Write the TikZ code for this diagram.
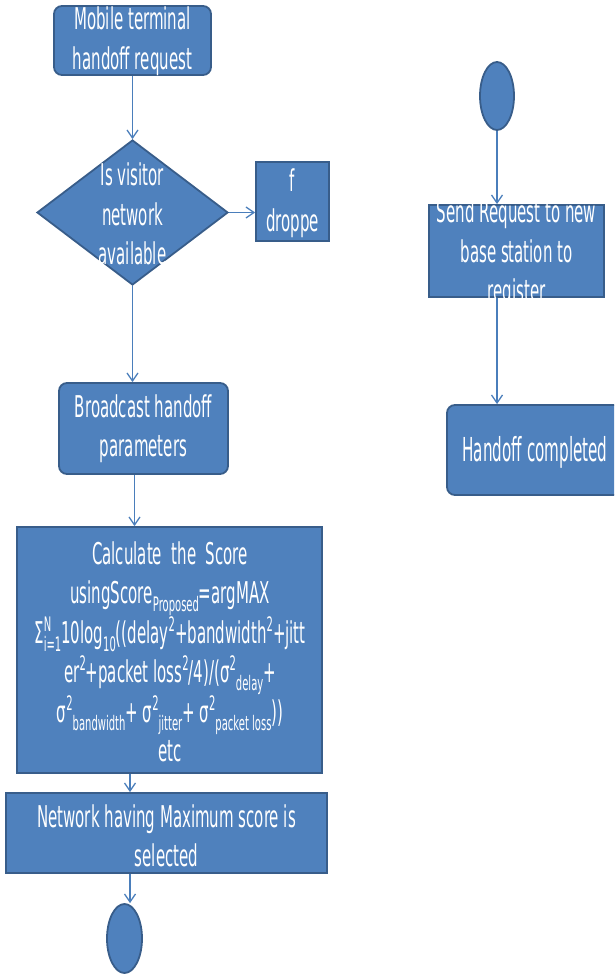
\documentclass[tikz,border=0pt]{standalone}
\usepackage{fontspec}
\setmainfont{DejaVu Sans}[FakeStretch=0.5]
\newfontfamily\bigfont{DejaVu Sans}[FakeStretch=0.46]
\usetikzlibrary{shapes.geometric,arrows.meta}
\definecolor{boxfill}{HTML}{4F81BD}
\definecolor{boxline}{HTML}{385D8A}
\definecolor{arrline}{HTML}{4A7EBB}
\newcommand{\sps}[1]{\raisebox{0.4em}{\fontsize{20}{20}\selectfont #1}}
\newcommand{\sbs}[1]{\raisebox{-0.26em}{\fontsize{20}{20}\selectfont #1}}
\tikzset{
  base/.style={fill=boxfill, draw=boxline, line width=1.8pt, inner sep=0pt},
  rbox/.style={base, rectangle, rounded corners=8pt},
  sbox/.style={base, rectangle},
  dia/.style={base, diamond},
  oval/.style={base, ellipse},
  txt/.style={text=white, align=center, inner sep=0pt, font=\fontsize{30}{39.5}\selectfont},
  arr/.style={draw=arrline, line width=1.3pt, -{Straight Barb[length=8pt,width=11pt,line width=1.3pt]}}
}
\begin{document}
\begin{tikzpicture}[x=1pt,y=-1pt]
\useasboundingbox (0,0) rectangle (614,976);
\begin{scope}
\clip (0,0) rectangle (614,976);
% left column
\node[rbox, minimum width=157, minimum height=69] (mt) at (132.5,40.5) {};
\node[txt] (mtt) at (132.5,41) {Mobile terminal\\handoff request};
\node[dia, minimum width=191, minimum height=145] (dec) at (132.5,212.5) {};
\node[txt] (dect) at (132.5,214) {Is visitor\\network\\available};
\node[sbox, minimum width=73, minimum height=79] (drop) at (292.5,201.5) {};
\node[txt] (dropt) at (292.5,203) {f\\droppe};
\node[rbox, minimum width=169, minimum height=91] (bc) at (143.5,428.5) {};
\node[txt] (bct) at (bc) {Broadcast handoff\\parameters};
\node[sbox, minimum width=305, minimum height=246] (calc) at (169.5,650) {};
\node[txt] (calct) at (170,652) {Calculate\ \ the\ \ Score\\
usingScore\sbs{Proposed}=argMAX\\
Σ\rlap{\sps{N}}\sbs{i=1}10log\sbs{10}((delay\sps{2}+bandwidth\sps{2}+jitt\\
er\sps{2}+packet loss\sps{2}/4)/(σ\sps{2}\sbs{delay}+\\
σ\sps{2}\sbs{bandwidth}+ σ\sps{2}\sbs{jitter}+ σ\sps{2}\sbs{packet loss}))\\
etc};
\node[sbox, minimum width=321, minimum height=80] (net) at (166.5,833) {};
\node[txt] (nett) at (166.5,836) {Network having Maximum score is\\selected};
\node[oval, minimum width=35, minimum height=69] (endL) at (124.5,938.5) {};
% right column
\node[oval, minimum width=34, minimum height=68] (startR) at (497,96) {};
\node[sbox, minimum width=175, minimum height=92] (send) at (516.5,251) {};
\begin{scope}
\clip (send.south west) rectangle (send.north east);
\node[txt] (sendt) at (516.5,254) {Send Request to new\\base station to\\register};
\end{scope}
\node[rbox, minimum width=175, minimum height=90] (done) at (534.5,450) {};
\node[txt, font=\bigfont\fontsize{33}{40}\selectfont] (donet) at (535,452) {Handoff completed};
% connectors
\coordinate (ax) at ([xshift=5.5pt]endL.north);
\draw[arr] (mt.south) -- (dec.north);
\draw[arr] (dec.east) -- (dec.east -| drop.west);
\draw[arr] (dec.south) -- (dec.south |- bc.north);
\draw[arr] ([xshift=2pt]bc.south -| dec.south) -- ([xshift=2pt]calc.north -| dec.south);
\draw[arr] (calc.south -| ax) -- (net.north -| ax);
\draw[arr] (net.south -| ax) -- (ax);
\draw[arr] (startR.south) -- (send.north -| startR.south);
\draw[arr] (send.south -| startR.south) -- (done.north -| startR.south);
\end{scope}
\end{tikzpicture}
\end{document}
